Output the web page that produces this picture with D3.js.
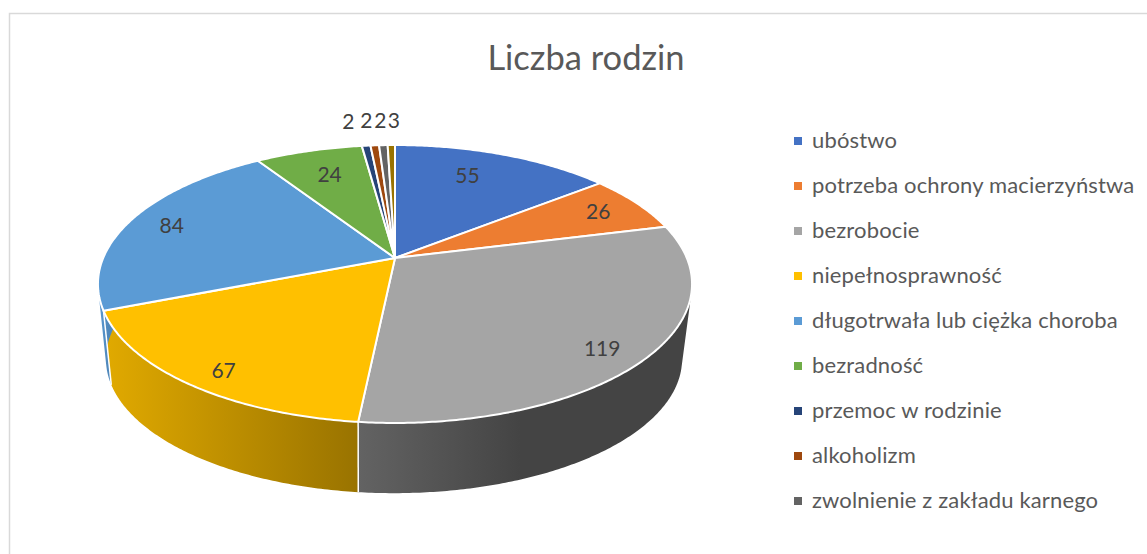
<!DOCTYPE html>
<html lang="pl">
<head>
<meta charset="utf-8">
<script src="https://cdn.jsdelivr.net/npm/d3@7"></script>
<style>
  html, body { margin: 0; padding: 0; background: #fff; }
  svg { display: block; font-family: Lato, "Open Sans", sans-serif; }
</style>
</head>
<body>
<svg width="1147" height="554"></svg>
<script>
  // the legend in the source stops at nine names, the tenth slice has none
  var categories = ['ubóstwo', 'potrzeba ochrony macierzyństwa', 'bezrobocie', 'niepełnosprawność',
    'długotrwała lub ciężka choroba', 'bezradność', 'przemoc w rodzinie', 'alkoholizm',
    'zwolnienie z zakładu karnego'];
  var values = [55, 26, 119, 67, 84, 24, 2, 2, 2, 3];
  var colors = ['#4472C4', '#ED7D31', '#A5A5A5', '#FFC000', '#5B9BD5', '#70AD47',
    '#264478', '#9E480E', '#636363', '#997300'];
  var title = 'Liczba rodzin';

  // label placement: fraction of the radius, then a small nudge in pixels
  var labelRadius = [0.72, 0.83, 0.85, 0.87, 0.85, 0.79, 1.2, 1.2, 1.2, 1.2];
  var labelDx = [-9, 0, -2, 5, 2, 5, -13, -5, -1, 3];
  var labelDy = [-5, 0, 7, 6, 1, 4, -6, -6, -6, -6];

  var svg = d3.select('svg');

  // perspective of the top and the bottom disc
  var cx = 395, k = 0.187;
  var topDisc = {x: cx, y: 258, a: 291.8, b: 134.1};
  var bottomDisc = {x: cx - 1, y: 334, a: 283, b: 129.4};

  // the source view draws the slices a little off their exact angle
  var deg = Math.PI / 180;
  var viewAngle = d3.scaleLinear()
    .domain([0, 76, 187.5, 329, 351.6, 357.2, 360].map(function (a) { return a * deg; }))
    .range([0, 76, 185.9, 327, 352.3, 358.3, 360].map(function (a) { return a * deg; }));

  function project(disc, angle, r) {
    var t = viewAngle(angle);
    var u = r * Math.sin(t), v = -r * Math.cos(t), w = 1 - k * v;
    return [disc.x + disc.a * u / w, disc.y + disc.b * v / w];
  }

  function arcAngles(a0, a1) {
    var n = Math.max(2, Math.ceil((a1 - a0) / 0.01));
    return d3.range(n + 1).map(function (i) { return a0 + (a1 - a0) * i / n; });
  }

  var line = d3.line();
  var slices = d3.pie().sort(null)(values);

  // shading of the wall runs from left to right over the whole pie
  var shadeStops = [98, 108, 358, 520, 692];
  var shade = d3.scaleLinear().domain(shadeStops).range([1, 0.88, 0.6, 0.41, 0.41]);

  var defs = svg.append('defs');
  slices.forEach(function (d, i) {
    var g = defs.append('linearGradient')
      .attr('id', 'wall' + i)
      .attr('gradientUnits', 'userSpaceOnUse')
      .attr('x1', 98).attr('x2', 692).attr('y1', 0).attr('y2', 0);
    shadeStops.forEach(function (x) {
      g.append('stop')
        .attr('offset', (x - 98) / (692 - 98))
        .attr('stop-color', d3.interpolateRgb('#000', colors[i])(shade(x)));
    });
  });

  // chart frame, cut by the edge of the picture on the right and at the bottom
  svg.append('path')
    .attr('d', 'M9.5,554V13.5H1147')
    .attr('fill', 'none')
    .attr('stroke', '#d9d9d9')
    .attr('stroke-width', 1.5);

  svg.append('text')
    .attr('x', 586).attr('y', 70)
    .attr('text-anchor', 'middle')
    .attr('font-size', 34.5)
    .attr('fill', '#595959')
    .text(title);

  // the wall is a strip of small quads, all wound the same way, so that its
  // outline follows the silhouette between the two discs
  function wallPath(d) {
    var angles = arcAngles(d.startAngle, d.endAngle);
    return d3.pairs(angles).map(function (p) {
      var q = [project(topDisc, p[0], 1), project(topDisc, p[1], 1),
        project(bottomDisc, p[1], 1), project(bottomDisc, p[0], 1)];
      if (d3.polygonArea(q) < 0) q.reverse();
      return line(q) + 'Z';
    }).join('');
  }

  svg.append('g').selectAll('path').data(slices).enter().append('path')
    .attr('d', wallPath)
    .attr('fill', function (d, i) { return 'url(#wall' + i + ')'; });

  // white seams where two walls meet
  svg.append('g').selectAll('path').data(slices).enter().append('path')
    .attr('d', function (d) {
      return line([project(topDisc, d.startAngle, 1), project(bottomDisc, d.startAngle, 1)]);
    })
    .attr('fill', 'none')
    .attr('stroke', '#fff')
    .attr('stroke-width', 1.5);

  // top face
  svg.append('g').selectAll('path').data(slices).enter().append('path')
    .attr('d', function (d) {
      var rim = arcAngles(d.startAngle, d.endAngle).map(function (a) {
        return project(topDisc, a, 1);
      });
      return line([project(topDisc, 0, 0)].concat(rim)) + 'Z';
    })
    .attr('fill', function (d, i) { return colors[i]; })
    .attr('stroke', '#fff')
    .attr('stroke-width', 2)
    .attr('stroke-linejoin', 'round');

  svg.append('g').selectAll('text').data(slices).enter().append('text')
    .attr('x', function (d, i) {
      return project(topDisc, (d.startAngle + d.endAngle) / 2, labelRadius[i])[0] + labelDx[i];
    })
    .attr('y', function (d, i) {
      return project(topDisc, (d.startAngle + d.endAngle) / 2, labelRadius[i])[1] + labelDy[i];
    })
    .attr('dy', '0.35em')
    .attr('text-anchor', 'middle')
    .attr('font-size', 21)
    .attr('fill', '#404040')
    .text(function (d) { return d.data; });

  // legend
  var legendY = d3.scalePoint().domain(categories).range([141, 501]);
  var legend = svg.append('g').selectAll('g').data(categories).enter().append('g')
    .attr('transform', function (d) { return 'translate(794,' + legendY(d) + ')'; });
  legend.append('rect')
    .attr('y', -4).attr('width', 8).attr('height', 8)
    .attr('fill', function (d, i) { return colors[i]; });
  legend.append('text')
    .attr('x', 18).attr('dy', '0.3em')
    .attr('font-size', 22)
    .attr('letter-spacing', 0.15)
    .attr('fill', '#595959')
    .text(function (d) { return d; });
</script>
</body>
</html>
